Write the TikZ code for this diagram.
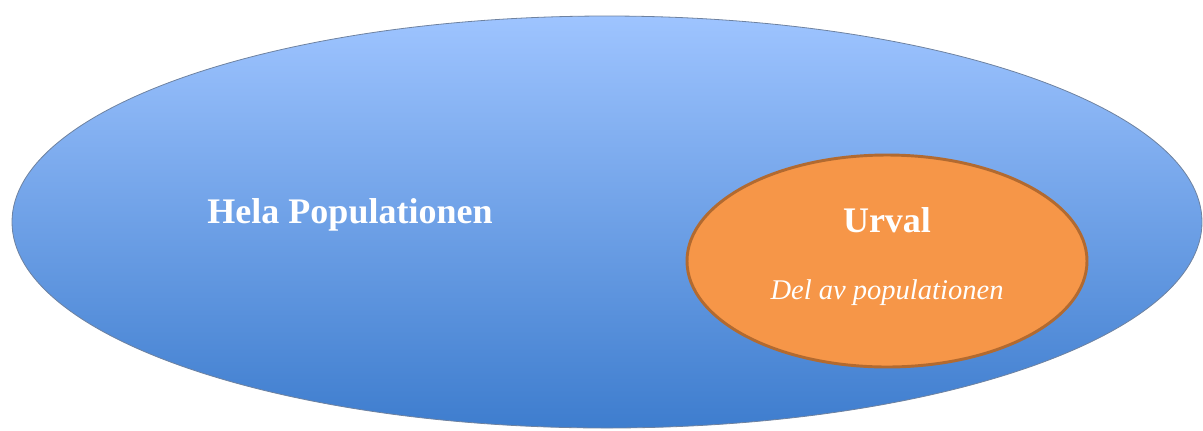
\documentclass[tikz,border=0pt]{standalone}
\usepackage{fontspec}
\setmainfont{Liberation Serif}
\usepackage{tikz}
\usetikzlibrary{positioning}
\definecolor{poptop}{RGB}{158,196,255}
\definecolor{popbottom}{RGB}{62,125,206}
\definecolor{popline}{RGB}{110,130,160}
\definecolor{urvalfill}{RGB}{246,150,72}
\definecolor{urvalline}{RGB}{178,106,48}
\tikzset{
  poplabel/.style={text=white,font=\fontsize{27}{30}\selectfont\bfseries,anchor=base},
  urvallabel/.style={text=white,font=\fontsize{27}{30}\selectfont\bfseries,anchor=base},
  dellabel/.style={text=white,font=\fontsize{21.4}{24}\selectfont\itshape,anchor=base}
}

\begin{document}
\begin{tikzpicture}[x=0.75pt,y=0.75pt,yscale=-1]
\useasboundingbox (0,0) rectangle (1203,430);

%Shape: Ellipse [population]
\shade [top color=poptop,bottom color=popbottom,draw=popline,line width=0.6] (607,222) ellipse (595 and 206);

%Shape: Ellipse [urval]
\draw [fill=urvalfill,draw=urvalline,line width=2.2] (887,261) ellipse (200 and 106);

% Text Node
\node [poplabel] (hela) at (350,223) {Hela Populationen};
% Text Node
\node [urvallabel] (urval) at (887,232) {Urval};
% Text Node
\node [dellabel] (del) at (887,299) {Del av populationen};

\end{tikzpicture}
\end{document}
